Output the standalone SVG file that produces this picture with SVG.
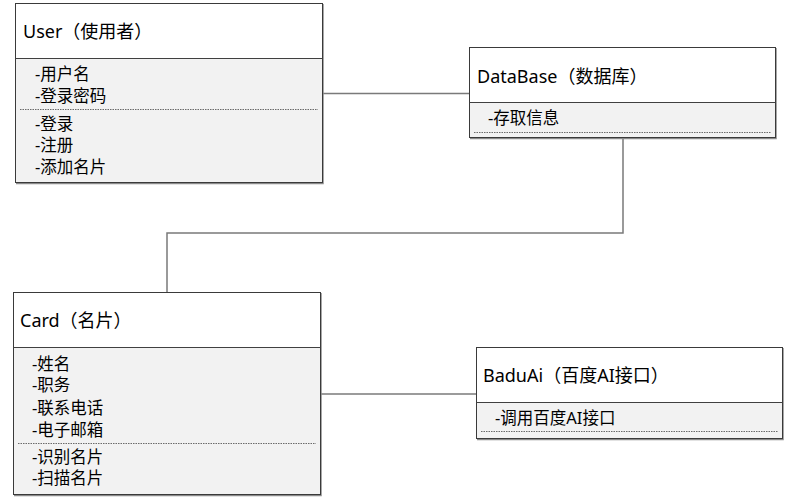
<svg xmlns="http://www.w3.org/2000/svg" width="796" height="504" viewBox="0 0 796 504">
<style>
.hdr{fill:#ffffff;stroke:none}
.body{fill:#f2f2f2;stroke:none}
.frame{fill:none;stroke:#3a3a3a;stroke-width:1}
.shadow{fill:none;stroke:#8a8a8a;stroke-width:1.5}
.sep{stroke:#404040;stroke-width:1}
.dot{stroke:#6a6a6a;stroke-width:1;stroke-dasharray:1.5 1}
.title{font-family:"Noto Sans","Noto Sans CJK SC",sans-serif;font-size:18px;fill:#000}
.item{font-family:"Noto Sans","Noto Sans CJK SC",sans-serif;font-size:16.5px;fill:#000}
.conn{fill:none;stroke:#7a7a7a;stroke-width:1.5}
</style>
<rect width="796" height="504" fill="#ffffff"/>
<g id="connectors">
<path class="conn" d="M323,93.5 H470"/>
<path class="conn" d="M623,138 V233 H167 V293"/>
<path class="conn" d="M320,394 H477"/>
</g>
<g id="user">
<rect class="hdr" x="15.5" y="3.5" width="307" height="55"/>
<rect class="body" x="15.5" y="58.5" width="307" height="124"/>
<path class="shadow" d="M323,4 V183.5 H16"/>
<rect class="frame" x="15.5" y="3.5" width="307" height="179"/>
<line class="sep" x1="15.5" y1="58.5" x2="322.5" y2="58.5"/>
<line class="dot" x1="20" y1="109.5" x2="318" y2="109.5"/>
<text class="title" x="23" y="37.5">User（使用者）</text>
<text class="item" x="35" y="79.5">-用户名</text>
<text class="item" x="35" y="101.5">-登录密码</text>
<text class="item" x="35" y="129.5">-登录</text>
<text class="item" x="35" y="150.5">-注册</text>
<text class="item" x="35" y="172.5">-添加名片</text>
</g>
<g id="database">
<rect class="hdr" x="469.5" y="47.5" width="306" height="55"/>
<rect class="body" x="469.5" y="102.5" width="306" height="35"/>
<path class="shadow" d="M776,48 V138.5 H470"/>
<rect class="frame" x="469.5" y="47.5" width="306" height="90"/>
<line class="sep" x1="469.5" y1="102.5" x2="775.5" y2="102.5"/>
<line class="dot" x1="474" y1="132.5" x2="771" y2="132.5"/>
<text class="title" x="477" y="82.5">DataBase（数据库）</text>
<text class="item" x="488" y="123.5">-存取信息</text>
</g>
<g id="card">
<rect class="hdr" x="13.5" y="292.5" width="307" height="55"/>
<rect class="body" x="13.5" y="347.5" width="307" height="147"/>
<path class="shadow" d="M321,293 V495.5 H14"/>
<rect class="frame" x="13.5" y="292.5" width="307" height="202"/>
<line class="sep" x1="13.5" y1="347.5" x2="320.5" y2="347.5"/>
<line class="dot" x1="18" y1="443.5" x2="316" y2="443.5"/>
<text class="title" x="20" y="326.5">Card（名片）</text>
<text class="item" x="32" y="369.5">-姓名</text>
<text class="item" x="32" y="390.5">-职务</text>
<text class="item" x="32" y="413.5">-联系电话</text>
<text class="item" x="32" y="435.5">-电子邮箱</text>
<text class="item" x="32" y="462.5">-识别名片</text>
<text class="item" x="32" y="483.5">-扫描名片</text>
</g>
<g id="baduai">
<rect class="hdr" x="476.5" y="347.5" width="306" height="55"/>
<rect class="body" x="476.5" y="402.5" width="306" height="36"/>
<path class="shadow" d="M783,348 V439.5 H477"/>
<rect class="frame" x="476.5" y="347.5" width="306" height="91"/>
<line class="sep" x1="476.5" y1="402.5" x2="782.5" y2="402.5"/>
<line class="dot" x1="481" y1="431.5" x2="778" y2="431.5"/>
<text class="title" x="483" y="381.5">BaduAi（百度AI接口）</text>
<text class="item" x="495" y="423.5">-调用百度AI接口</text>
</g>
</svg>
